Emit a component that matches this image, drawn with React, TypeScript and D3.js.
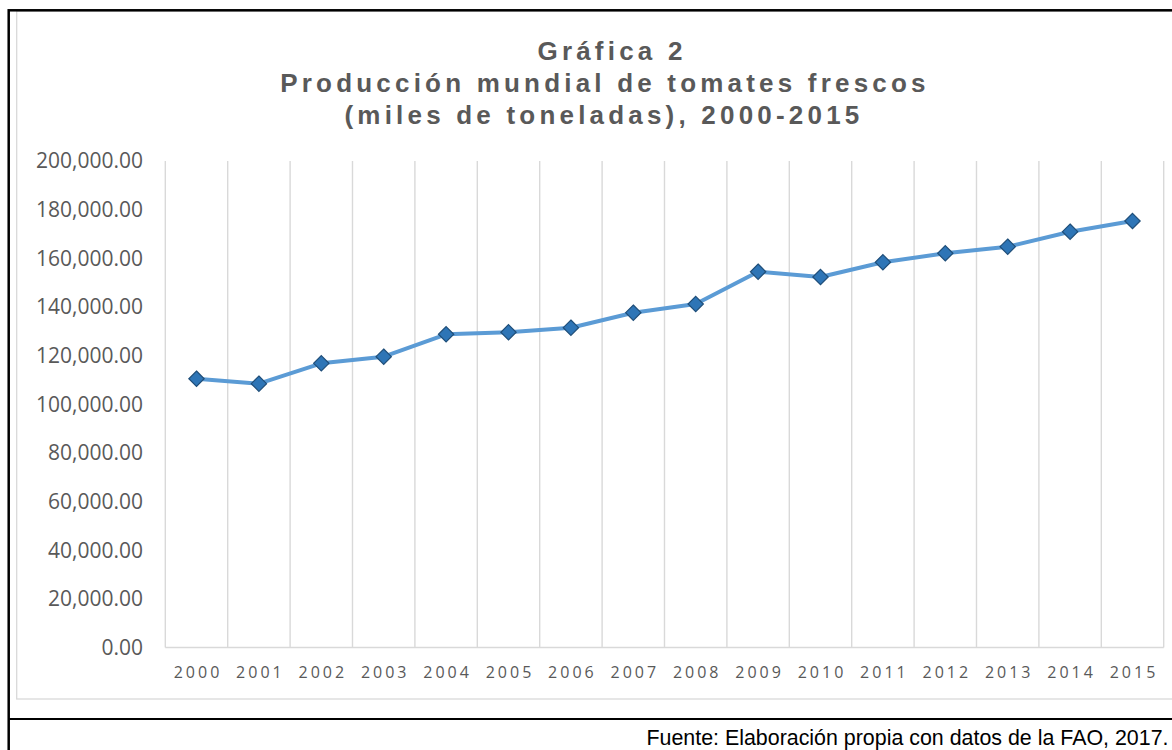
import * as d3 from "d3";

const years = ["2000", "2001", "2002", "2003", "2004", "2005", "2006", "2007", "2008", "2009", "2010", "2011", "2012", "2013", "2014", "2015"];
const production = [110500, 108450, 116830, 119550, 128760, 129580, 131470, 137640, 141210, 154490, 152310, 158360, 162060, 164770, 170940, 175330];
const yTicks = [0, 20000, 40000, 60000, 80000, 100000, 120000, 140000, 160000, 180000, 200000];
const titleLines = ["Gráfica 2", "Producción mundial de tomates frescos", "(miles de toneladas), 2000-2015"];
const footnote = "Fuente: Elaboración propia con datos de la FAO, 2017.";

const WIDTH = 1172;
const HEIGHT = 750;
const TEXT_GRAY = "#595959";
const GRID = "#d9d9d9";

function App() {
  const x = d3.scaleBand().domain(years).range([165.3, 1163.7]).padding(0);
  const y = d3.scaleLinear().domain([0, 200000]).range([647.5, 161]);
  const fmt = d3.format(",.2f");

  const line = d3.line<number>()
    .x((d, i) => x(years[i])! + x.bandwidth() / 2)
    .y((d) => y(d));

  const diamond = d3.symbol().type(d3.symbolDiamond2).size(150)();

  // category boundaries for the vertical gridlines
  const bounds = years.map((yr) => x(yr)!).concat([x.range()[1]]);

  // first title line sits a little right of the others in the original
  const titleX = [612, 605, 604];

  return (
    <svg
      width={WIDTH}
      height={HEIGHT}
      style={{ position: "absolute", left: 0, top: 0, background: "#fff" }}
    >
      {/* chart area frame */}
      <rect x={16.7} y={11} width={1180} height={688} fill="none" stroke={GRID} strokeWidth={1.3} />
      {/* outer black frame and footer divider */}
      <rect x={8.7} y={10.3} width={1190} height={760} fill="none" stroke="#000" strokeWidth={2.5} />
      <line x1={8.7} x2={WIDTH} y1={719} y2={719} stroke="#000" strokeWidth={2} />

      <g fontFamily="'Liberation Sans', Arial, sans-serif" fontWeight="bold" fontSize={26} fill={TEXT_GRAY} textAnchor="middle" letterSpacing={4.2}>
        {titleLines.map((t, i) => (
          <text key={i} x={titleX[i]} y={60 + i * 32}>{t}</text>
        ))}
      </g>

      {/* vertical gridlines */}
      <g stroke={GRID} strokeWidth={1.4}>
        {bounds.map((b, i) => (
          <line key={i} x1={b} x2={b} y1={y(200000)} y2={y(0)} />
        ))}
        <line x1={x.range()[0]} x2={x.range()[1]} y1={y(0)} y2={y(0)} />
      </g>

      {/* y axis labels */}
      <g fontFamily="'Open Sans', sans-serif" fontSize={21} fill={TEXT_GRAY} textAnchor="end">
        {yTicks.map((t) => (
          <text key={t} x={143} y={y(t)} dy="0.35em">{fmt(t)}</text>
        ))}
      </g>

      {/* x axis labels */}
      <g fontFamily="'Open Sans', sans-serif" fontSize={16} fill={TEXT_GRAY} textAnchor="middle" letterSpacing={3}>
        {years.map((yr) => (
          <text key={yr} x={x(yr)! + x.bandwidth() / 2 + 1.5} y={677.7}>{yr}</text>
        ))}
      </g>

      <path d={line(production)!} fill="none" stroke="#5b9bd5" strokeWidth={4} strokeLinejoin="round" strokeLinecap="round" />
      <g>
        {production.map((v, i) => (
          <path
            key={years[i]}
            d={diamond!}
            transform={`translate(${x(years[i])! + x.bandwidth() / 2},${y(v)})`}
            fill="#2e75b6"
            stroke="#1f4e79"
            strokeWidth={1.2}
          />
        ))}
      </g>

      <text x={1168.5} y={745} textAnchor="end" fontFamily="'Liberation Sans', Arial, sans-serif" fontSize={21.4} fill="#000">
        {footnote}
      </text>
    </svg>
  );
}

export default App;
